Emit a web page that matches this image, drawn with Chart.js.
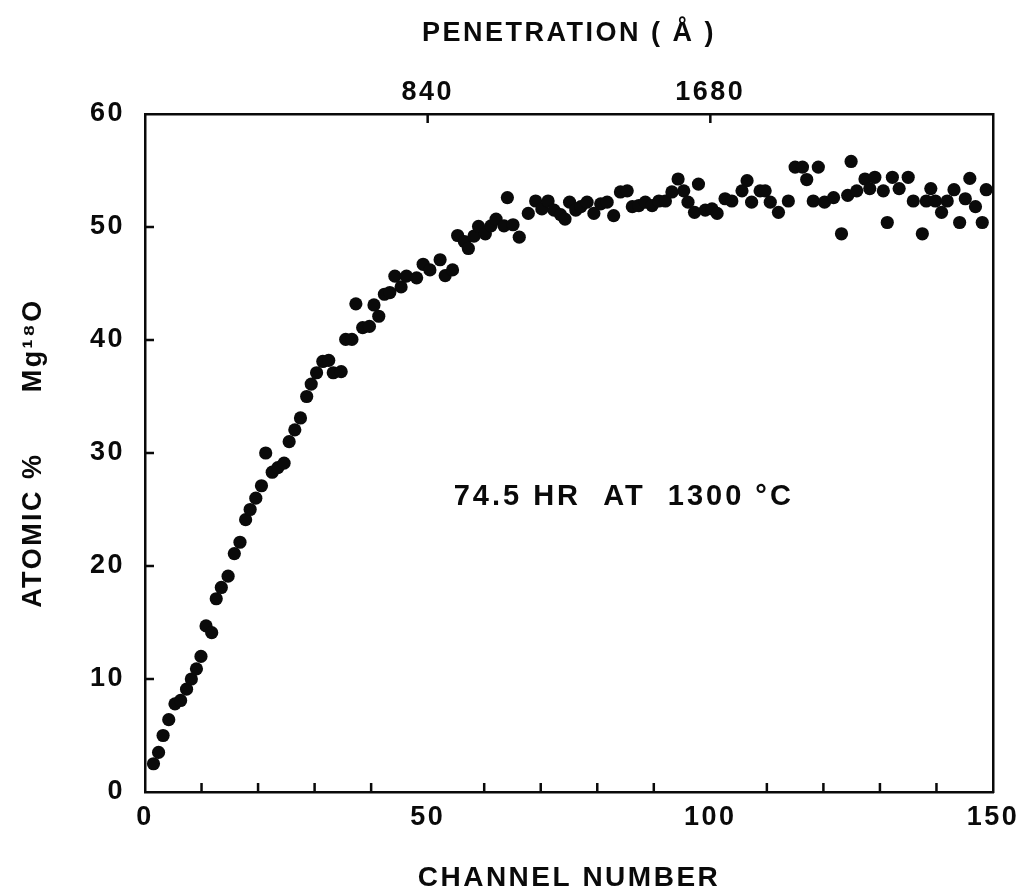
<!DOCTYPE html>
<html lang="en">

<head>
    <meta charset="UTF-8" />
    <title>Mg18O penetration profile</title>
    <script src="https://cdn.jsdelivr.net/npm/chart.js"></script>
    <style>
        body {
            margin: 0;
            background: #fff;
        }

        canvas {
            display: block;
        }
    </style>
</head>

<body>
    <canvas id="profile" width="1030" height="895"></canvas>

    <script>
        // channel number of each measured point
        const channel = [
            1.5, 2.4, 3.2, 4.2, 5.3, 6.3, 7.35, 8.2, 9.1, 9.9,
            10.8, 11.8, 12.6, 13.5, 14.7, 15.8, 16.8, 17.8, 18.6, 19.6,
            20.6, 21.35, 22.5, 23.5, 24.6, 25.5, 26.5, 27.5, 28.6, 29.4,
            30.35, 31.45, 32.5, 33.3, 34.7, 35.5, 36.6, 37.3, 38.5, 39.7,
            40.5, 41.35, 42.35, 43.3, 44.2, 45.3, 46.25, 48.05, 49.2, 50.4,
            52.2, 53.1, 54.4, 55.3, 56.5, 57.2, 58.2, 59.0, 60.2, 61.2,
            62.1, 63.5, 64.1, 65.1, 66.2, 67.8, 69.1, 70.2, 71.3, 72.35,
            73.5, 74.3, 75.1, 76.2, 77.1, 78.2, 79.4, 80.6, 81.75, 82.9,
            84.1, 85.3, 86.2, 87.35, 88.5, 89.7, 90.9, 92.05, 93.2, 94.3,
            95.3, 96.05, 97.2, 97.9, 99.1, 100.3, 101.2, 102.6, 103.8, 105.6,
            106.5, 107.3, 108.8, 109.7, 110.6, 112.05, 113.8, 115.0, 116.3, 117.05,
            118.2, 119.1, 120.2, 121.8, 123.2, 124.3, 124.9, 125.9, 127.35, 128.2,
            129.1, 130.6, 131.3, 132.2, 133.4, 135.0, 135.9, 137.5, 138.2, 139.0,
            139.8, 140.9, 141.9, 143.1, 144.1, 145.1, 145.9, 146.9, 148.1, 148.8
        ];

        // atomic % Mg18O at each channel
        const atomicPct = [
            2.5, 3.5, 5.0, 6.4, 7.8, 8.1, 9.1, 10.0, 10.9, 12.0,
            14.7, 14.1, 17.1, 18.1, 19.1, 21.1, 22.1, 24.1, 25.0, 26.0,
            27.1, 30.0, 28.3, 28.7, 29.1, 31.0, 32.05, 33.1, 35.0, 36.1,
            37.1, 38.1, 38.2, 37.1, 37.2, 40.05, 40.05, 43.2, 41.1, 41.2,
            43.1, 42.1, 44.05, 44.2, 45.65, 44.7, 45.65, 45.5, 46.7, 46.2,
            47.1, 45.7, 46.2, 49.25, 48.7, 48.1, 49.2, 50.05, 49.4, 50.1,
            50.7, 50.1, 52.6, 50.2, 49.1, 51.2, 52.3, 51.6, 52.3, 51.5,
            51.1, 50.7, 52.2, 51.5, 51.8, 52.2, 51.2, 52.05, 52.2, 51.0,
            53.1, 53.2, 51.8, 51.9, 52.2, 51.9, 52.3, 52.3, 53.1, 54.25,
            53.2, 52.2, 51.3, 53.8, 51.5, 51.6, 51.2, 52.5, 52.3, 53.2,
            54.1, 52.2, 53.2, 53.2, 52.2, 51.3, 52.3, 55.3, 55.3, 54.2,
            52.3, 55.3, 52.2, 52.6, 49.4, 52.8, 55.8, 53.2, 54.25, 53.4,
            54.4, 53.2, 50.4, 54.4, 53.4, 54.4, 52.3, 49.4, 52.3, 53.4,
            52.3, 51.3, 52.3, 53.3, 50.4, 52.5, 54.3, 51.8, 50.4, 53.3
        ];

        const channelLabels = [0, 50, 100, 150];
        const channelMinorTicks = [10, 20, 30, 40, 60, 70, 80, 90, 110, 120, 130, 140];
        const pctMinorTicks = [10, 20, 30, 40, 50];
        // penetration depth per channel, in angstrom
        const angstromPerChannel = 16.8;
        const penetrationTicks = [840, 1680];

        const note = '74.5 HR  AT  1300 °C';
        const noteAt = { x: 54.6, y: 26.1 };

        const FONT = '"Liberation Sans", Arial, sans-serif';
        const INK = '#0a0a0a';

        const points = channel.map((c, i) => ({ x: c, y: atomicPct[i] }));

        // hand-lettered look: every label on the chart is spaced out a little
        const spacedText = {
            id: 'spacedText',
            beforeDraw(chart) {
                chart.ctx.letterSpacing = '2.5px';
            }
        };

        // short tick marks pointing into the frame, plus the run note
        const innerTicks = {
            id: 'innerTicks',
            afterDraw(chart) {
                const { ctx, chartArea: a, scales } = chart;
                const len = 9;
                ctx.save();
                ctx.strokeStyle = INK;
                ctx.lineWidth = 2.5;
                ctx.beginPath();
                channelMinorTicks.forEach(v => {
                    const px = scales.x.getPixelForValue(v);
                    ctx.moveTo(px, a.bottom);
                    ctx.lineTo(px, a.bottom - len);
                });
                pctMinorTicks.forEach(v => {
                    const py = scales.y.getPixelForValue(v);
                    ctx.moveTo(a.left, py);
                    ctx.lineTo(a.left + len, py);
                });
                penetrationTicks.forEach(v => {
                    const px = scales.x2.getPixelForValue(v);
                    ctx.moveTo(px, a.top);
                    ctx.lineTo(px, a.top + len);
                });
                ctx.stroke();

                ctx.fillStyle = INK;
                ctx.letterSpacing = '3px';
                ctx.font = 'bold 29px ' + FONT;
                ctx.textAlign = 'left';
                ctx.textBaseline = 'middle';
                ctx.fillText(note, scales.x.getPixelForValue(noteAt.x), scales.y.getPixelForValue(noteAt.y));
                ctx.restore();
            }
        };

        const tickFont = { family: FONT, size: 27, weight: 'bold' };
        const border = { display: true, color: INK, width: 2.5 };

        new Chart(document.getElementById('profile'), {
            type: 'scatter',
            data: {
                datasets: [{
                    data: points,
                    backgroundColor: INK,
                    borderWidth: 0,
                    pointRadius: 6.6,
                    pointHoverRadius: 6.6
                }]
            },
            options: {
                responsive: false,
                animation: false,
                layout: { padding: 0 },
                plugins: {
                    legend: { display: false },
                    tooltip: { enabled: false }
                },
                scales: {
                    x: {
                        type: 'linear',
                        position: 'bottom',
                        min: 0,
                        max: 150,
                        afterBuildTicks: s => { s.ticks = channelLabels.map(v => ({ value: v })); },
                        afterFit: s => { s.height = 103; },
                        grid: { display: false, drawTicks: false },
                        border,
                        ticks: { color: INK, font: tickFont, padding: 9, maxRotation: 0 },
                        title: {
                            display: true,
                            text: 'CHANNEL NUMBER',
                            color: INK,
                            font: { family: FONT, size: 28, weight: 'bold' },
                            padding: { top: 0, bottom: 0 }
                        }
                    },
                    x2: {
                        type: 'linear',
                        position: 'top',
                        min: 0,
                        max: 150 * angstromPerChannel,
                        afterBuildTicks: s => { s.ticks = penetrationTicks.map(v => ({ value: v })); },
                        afterFit: s => { s.height = 114; },
                        grid: { display: false, drawTicks: false },
                        border,
                        ticks: {
                            color: INK,
                            font: tickFont,
                            padding: 5,
                            maxRotation: 0,
                            callback: v => String(v)
                        },
                        title: {
                            display: true,
                            text: 'PENETRATION ( Å )',
                            color: INK,
                            font: { family: FONT, size: 27, weight: 'bold' },
                            padding: { top: 17, bottom: 0 }
                        }
                    },
                    y: {
                        type: 'linear',
                        position: 'left',
                        min: 0,
                        max: 60,
                        afterFit: s => { s.width = 145; },
                        grid: { display: false, drawTicks: false },
                        border,
                        ticks: { color: INK, font: tickFont, padding: 20, stepSize: 10 },
                        title: {
                            display: true,
                            text: 'ATOMIC %      Mg¹⁸O',
                            color: INK,
                            font: { family: FONT, size: 27, weight: 'bold' },
                            padding: { top: 17, bottom: 0 }
                        }
                    },
                    y2: {
                        type: 'linear',
                        position: 'right',
                        min: 0,
                        max: 60,
                        afterFit: s => { s.width = 37; },
                        grid: { display: false, drawTicks: false },
                        border,
                        ticks: { display: false }
                    }
                }
            },
            plugins: [spacedText, innerTicks]
        });
    </script>
</body>

</html>
